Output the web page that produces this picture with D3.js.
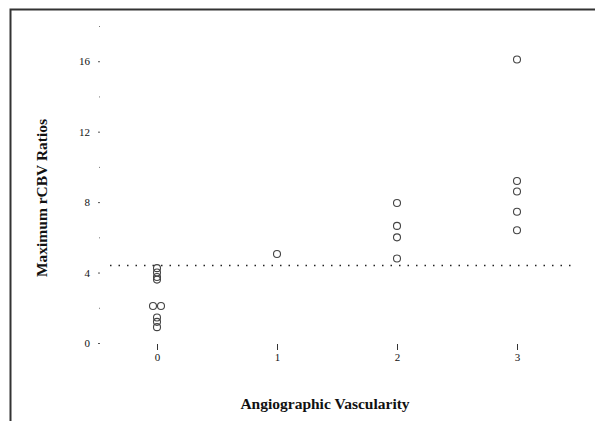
<!DOCTYPE html>
<html>
<head>
<meta charset="utf-8">
<script src="https://cdn.jsdelivr.net/npm/d3@7"></script>
<style>
  body { margin: 0; background: #fff; }
  text { font-family: "Liberation Serif", "DejaVu Serif", serif; fill: #111; }
</style>
</head>
<body>
<div id="chart"></div>
<script>
const WIDTH = 595, HEIGHT = 421;
const margin = {top: 26, right: 78, bottom: 78, left: 100};

// data
const categories = [0, 1, 2, 3];
const vasc0 = [4.25, 4.0, 3.75, 3.6, 2.1, 2.1, 1.45, 1.2, 0.9];
const vasc1 = [5.05];
const vasc2 = [7.95, 6.65, 6.0, 4.8];
const vasc3 = [16.1, 9.2, 8.6, 7.45, 6.4];
const groups = [vasc0, vasc1, vasc2, vasc3];
const cutoff = 4.4;
const majorTicks = [0, 4, 8, 12, 16];
const minorTicks = [2, 6, 10, 14, 18];

let svg = d3.select("#chart")
    .append("svg")
    .attr("width", WIDTH)
    .attr("height", HEIGHT);

// scanned page frame
svg.append("path")
    .attr("d", `M10.5,${HEIGHT} L10.5,9.5 L${WIDTH},9.5`)
    .attr("fill", "none")
    .attr("stroke", "#333")
    .attr("stroke-width", 2);

let x = d3.scalePoint()
    .domain(categories)
    .range([157, 517]);

let y = d3.scaleLinear()
    .domain([0, 18])
    .range([343, 26]);

// y axis: ticks only, no domain line
let yAxis = svg.append("g")
    .attr("transform", `translate(${margin.left}, 0)`)
    .call(d3.axisLeft(y).tickValues(majorTicks).tickSize(2).tickPadding(8));
yAxis.select(".domain").remove();
yAxis.selectAll("text").style("font-size", "11px");
yAxis.selectAll("line").attr("stroke", "#555");

svg.append("g")
    .attr("transform", `translate(${margin.left}, 0)`)
    .call(d3.axisLeft(y).tickValues(minorTicks).tickSize(1).tickFormat(""))
    .call(g => g.select(".domain").remove())
    .selectAll("line").attr("stroke", "#777");

// x axis: tick marks below the zero line, labels beneath
let xAxis = svg.append("g")
    .attr("transform", `translate(0, ${y(0) + 1})`)
    .call(d3.axisBottom(x).tickSize(6).tickPadding(3));
xAxis.select(".domain").remove();
xAxis.selectAll("text").style("font-size", "11px");
xAxis.selectAll("line").attr("stroke", "#333");

// cutoff dotted line
svg.append("line")
    .attr("x1", 110)
    .attr("x2", 573)
    .attr("y1", y(cutoff))
    .attr("y2", y(cutoff))
    .attr("stroke", "#222")
    .attr("stroke-width", 1.5)
    .attr("stroke-dasharray", "1.5,7");

// points, dodging exact duplicates side by side
let points = [];
groups.forEach(function(vals, i) {
    let seen = {};
    vals.forEach(function(v) {
        let n = vals.filter(function(w) { return w === v; }).length;
        let k = seen[v] || 0;
        seen[v] = k + 1;
        points.push({cat: categories[i], value: v, dx: n > 1 ? (k - (n - 1) / 2) * 8 : 0});
    });
});

svg.append("g").selectAll("circle")
    .data(points)
    .join("circle")
    .attr("cx", function(d) { return x(d.cat) + d.dx; })
    .attr("cy", function(d) { return y(d.value); })
    .attr("r", 3.5)
    .attr("fill", "none")
    .attr("stroke", "#444")
    .attr("stroke-width", 1.1);

// axis titles
svg.append("text")
    .attr("transform", `translate(47, 198) rotate(-90)`)
    .style("text-anchor", "middle")
    .style("font-size", "15.5px")
    .style("font-weight", "bold")
    .text("Maximum rCBV Ratios");

svg.append("text")
    .attr("x", 325)
    .attr("y", 409)
    .style("text-anchor", "middle")
    .style("font-size", "15.5px")
    .style("font-weight", "bold")
    .text("Angiographic Vascularity");
</script>
</body>
</html>
